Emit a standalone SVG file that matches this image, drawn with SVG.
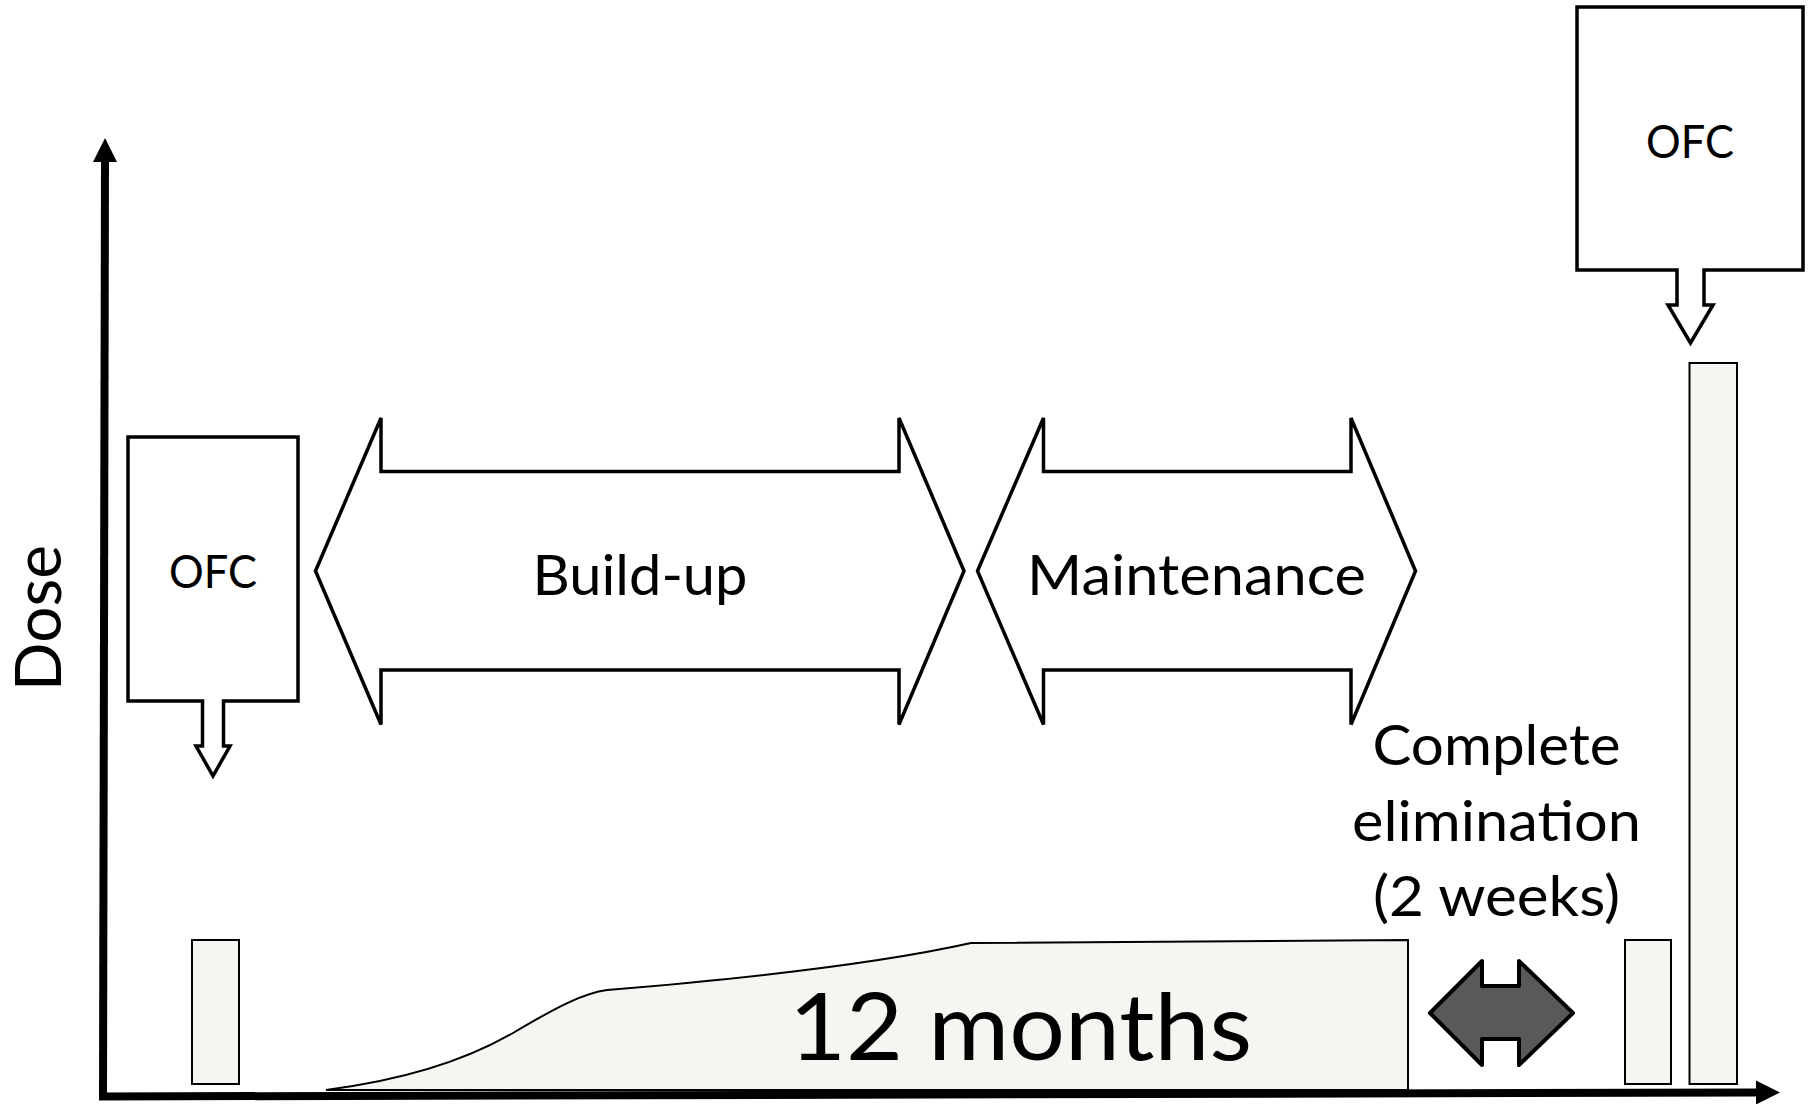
<svg xmlns="http://www.w3.org/2000/svg" width="1812" height="1104" viewBox="0 0 1812 1104">
<style>
.t{font-family:Lato,"Open Sans","Liberation Sans",sans-serif;fill:#000;text-anchor:middle}
.outline{fill:#fff;stroke:#000;stroke-width:3.5;stroke-linejoin:miter}
.bar{fill:#f6f5f1;stroke:#000;stroke-width:2}
.axis{stroke:#000;stroke-width:8;fill:none}
</style>
<defs>
<marker id="ah" viewBox="0 0 10 10" refX="0" refY="5" markerWidth="3" markerHeight="3" orient="auto" markerUnits="strokeWidth">
<path d="M0,0 L10,5 L0,10 Z" fill="#000"/>
</marker>
</defs>
<rect width="1812" height="1104" fill="#fff"/>

<g id="connectors">
<path class="axis" d="M103,1097 L105,162" marker-end="url(#ah)"/>
<path class="axis" d="M99,1096.5 L1756,1092.5" marker-end="url(#ah)"/>
</g>

<text class="t" transform="translate(61,618) rotate(-90)" font-size="64" textLength="146" lengthAdjust="spacingAndGlyphs">Dose</text>

<g id="dose-curve">
<path class="bar" d="M326,1090 C420,1078 475,1055 513,1033 C560,1005 585,993 607,990 Q850,970 971,943 L1408,940 L1408,1090 Z"/>
<text class="t" x="1020.5" y="1060" font-size="93" textLength="463" lengthAdjust="spacingAndGlyphs">12 months</text>
</g>

<g id="bar1"><rect class="bar" x="192" y="940" width="47" height="144"/></g>
<g id="bar2"><rect class="bar" x="1625" y="940" width="46" height="144"/></g>
<g id="bar3"><rect class="bar" x="1689.5" y="363" width="47.5" height="721"/></g>

<g id="ofc1">
<path class="outline" d="M128,437 H298 V701 H223.5 V746 H230 L213,776 L196,746 H202.5 V701 H128 Z"/>
<text class="t" x="213" y="588" font-size="46" textLength="88" lengthAdjust="spacingAndGlyphs">OFC</text>
</g>

<g id="ofc2">
<path class="outline" d="M1577,7 H1803 V270 H1704 V305 H1713 L1690.5,343 L1668,305 H1677 V270 H1577 Z"/>
<text class="t" x="1690" y="158" font-size="46" textLength="88" lengthAdjust="spacingAndGlyphs">OFC</text>
</g>

<g id="buildup">
<path class="outline" d="M315.5,571 L381,418 V471.5 H899 V418 L964,571 L899,724.5 V670 H381 V724.5 Z"/>
<text class="t" x="640" y="595" font-size="56" textLength="215" lengthAdjust="spacingAndGlyphs">Build-up</text>
</g>

<g id="maintenance">
<path class="outline" d="M977.5,571 L1043.5,418 V471.5 H1351 V418 L1415.5,571 L1351,724.5 V670 H1043.5 V724.5 Z"/>
<text class="t" x="1196.5" y="595" font-size="56" textLength="339" lengthAdjust="spacingAndGlyphs">Maintenance</text>
</g>

<g id="elimination">
<text class="t" x="1496.5" y="765" font-size="56" textLength="248" lengthAdjust="spacingAndGlyphs">Complete</text>
<text class="t" x="1496.5" y="841" font-size="56" textLength="289" lengthAdjust="spacingAndGlyphs">elimination</text>
<text class="t" x="1496.5" y="916" font-size="56" textLength="247" lengthAdjust="spacingAndGlyphs">(2 weeks)</text>
<path d="M1430,1013 L1482,961 V986 H1519 V961 L1573,1013 L1519,1065 V1039 H1482 V1065 Z" fill="#595959" stroke="#000" stroke-width="4" stroke-linejoin="round"/>
</g>
</svg>
